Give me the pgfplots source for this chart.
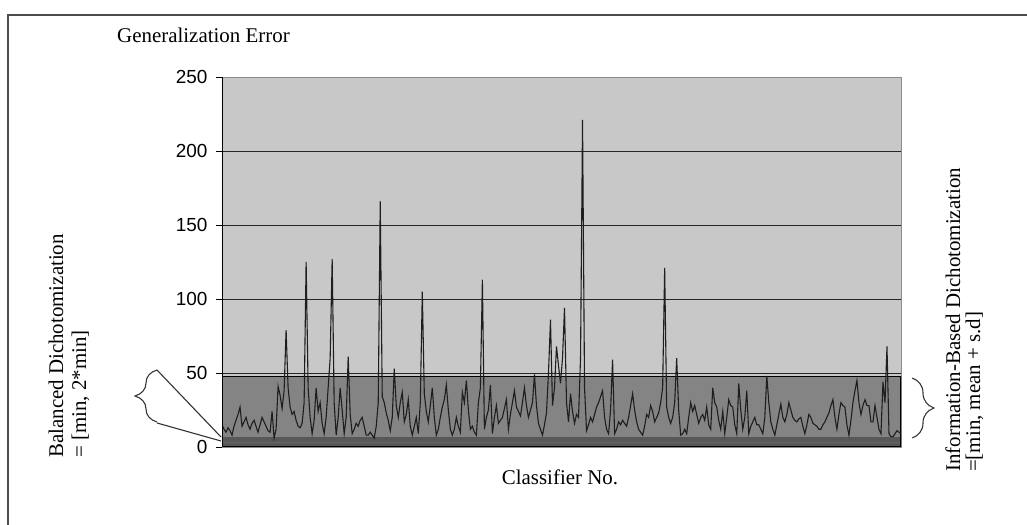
\documentclass[border=0pt]{standalone}
\usepackage{pgfplots}
\pgfplotsset{compat=1.18}
\usepackage{fontspec}
\setmainfont{Liberation Serif}
\newfontfamily\sansf{Liberation Sans}
\usetikzlibrary{decorations.pathreplacing}
\definecolor{plotbg}{RGB}{200,200,200}
\definecolor{bandc}{RGB}{132,132,132}
\definecolor{stripec}{RGB}{88,88,88}
\definecolor{linec}{RGB}{30,30,30}
\begin{document}
\begin{tikzpicture}
\useasboundingbox (0bp,0bp) rectangle (1027bp,525bp);
\draw[line width=2bp, black!70] (8bp,0bp) -- (8bp,510bp) -- (1027bp,510bp);
\begin{axis}[
  at={(222bp,78bp)}, anchor=south west,
  scale only axis, width=679bp, height=370bp,
  xmin=0, xmax=339, ymin=0, ymax=250,
  xtick=\empty, ytick={0,50,...,250}, ytick pos=left,
  ymajorgrids, grid style={black!85, line width=0.9bp},
  axis background/.style={fill=plotbg},
  axis line style={black!45},
  tick align=outside, major tick length=6bp,
  ytick style={black, line width=0.8bp},
  tick label style={font=\sansf\fontsize{19}{22}\selectfont},
  yticklabel style={xshift=-5bp},
  /pgf/number format/assume math mode=true,
]
\fill[bandc] (axis cs:0,0) rectangle (axis cs:339,47.5);
\fill[stripec] (axis cs:0,0) rectangle (axis cs:339,6.5);
\draw[black!60, line width=0.6bp] (axis cs:0,3) -- (axis cs:339,3);
\draw[black, line width=1.2bp] (axis cs:0,0) rectangle (axis cs:339,47.5);
\addplot[linec, line width=1.1bp, mark=none] coordinates {
(0,15)(1,12)(2,10)(3,13)(4,11)(5,8)(6,14)(7,18)(8,22)(9,27)
(10,14)(11,17)(12,20)(13,15)(14,12)(15,16)(16,18)(17,14)(18,10)(19,15)
(20,20)(21,17)(22,14)(23,11)(24,10)(25,24)(26,6)(27,12)(28,41)(29,35)
(30,26)(31,38)(32,79)(33,40)(34,27)(35,22)(36,24)(37,18)(38,14)(39,13)
(40,16)(41,30)(42,125)(43,40)(44,20)(45,9)(46,18)(47,40)(48,24)(49,30)
(50,16)(51,9)(52,20)(53,40)(54,60)(55,127)(56,30)(57,8)(58,20)(59,40)
(60,25)(61,9)(62,20)(63,61)(64,22)(65,9)(66,12)(67,16)(68,14)(69,18)
(70,20)(71,14)(72,8)(73,8)(74,10)(75,8)(76,6)(77,14)(78,30)(79,166)
(80,34)(81,30)(82,23)(83,18)(84,11)(85,20)(86,53)(87,28)(88,20)(89,30)
(90,37)(91,17)(92,22)(93,32)(94,14)(95,8)(96,14)(97,20)(98,9)(99,30)
(100,105)(101,36)(102,24)(103,17)(104,28)(105,40)(106,20)(107,8)(108,12)(109,20)
(110,27)(111,32)(112,42)(113,25)(114,12)(115,8)(116,12)(117,20)(118,14)(119,10)
(120,37)(121,30)(122,45)(123,25)(124,12)(125,14)(126,10)(127,8)(128,30)(129,40)
(130,113)(131,12)(132,20)(133,25)(134,42)(135,9)(136,20)(137,28)(138,16)(139,18)
(140,20)(141,26)(142,32)(143,12)(144,22)(145,30)(146,38)(147,27)(148,24)(149,21)
(150,30)(151,40)(152,28)(153,20)(154,25)(155,30)(156,49)(157,28)(158,16)(159,12)
(160,8)(161,15)(162,23)(163,50)(164,86)(165,28)(166,40)(167,68)(168,55)(169,43)
(170,60)(171,94)(172,30)(173,17)(174,36)(175,24)(176,16)(177,22)(178,20)(179,60)
(180,221)(181,40)(182,11)(183,15)(184,20)(185,17)(186,22)(187,27)(188,30)(189,34)
(190,38)(191,20)(192,12)(193,9)(194,25)(195,59)(196,9)(197,12)(198,17)(199,15)
(200,18)(201,16)(202,14)(203,20)(204,28)(205,36)(206,25)(207,17)(208,12)(209,10)
(210,8)(211,14)(212,22)(213,20)(214,28)(215,24)(216,17)(217,20)(218,23)(219,30)
(220,40)(221,121)(222,27)(223,20)(224,16)(225,20)(226,30)(227,60)(228,25)(229,8)
(230,9)(231,12)(232,9)(233,20)(234,30)(235,24)(236,28)(237,22)(238,16)(239,20)
(240,22)(241,18)(242,27)(243,15)(244,12)(245,40)(246,30)(247,27)(248,18)(249,12)
(250,24)(251,9)(252,20)(253,32)(254,28)(255,27)(256,15)(257,9)(258,43)(259,25)
(260,12)(261,20)(262,38)(263,9)(264,14)(265,17)(266,20)(267,15)(268,15)(269,12)
(270,9)(271,20)(272,48)(273,30)(274,17)(275,12)(276,8)(277,15)(278,22)(279,29)
(280,20)(281,17)(282,22)(283,30)(284,25)(285,20)(286,18)(287,17)(288,19)(289,20)
(290,14)(291,9)(292,15)(293,22)(294,20)(295,16)(296,15)(297,14)(298,12)(299,12)
(300,15)(301,17)(302,20)(303,23)(304,28)(305,32)(306,20)(307,12)(308,22)(309,30)
(310,28)(311,27)(312,15)(313,8)(314,18)(315,30)(316,38)(317,45)(318,30)(319,22)
(320,28)(321,32)(322,28)(323,28)(324,17)(325,17)(326,28)(327,20)(328,12)(329,9)
(330,44)(331,30)(332,68)(333,9)(334,7)(335,7)(336,9)(337,11)(338,10)(339,9)
};
\draw[black, line width=1.2bp] (rel axis cs:0,0) -- (rel axis cs:0,1);
\end{axis}
% annotations
\node[anchor=base west, inner sep=0pt, font=\fontsize{21}{24}\selectfont] at (117bp,482bp) {Generalization Error};
\node[anchor=base, inner sep=0pt, font=\fontsize{21}{24}\selectfont] at (560bp,40bp) {Classifier No.};
\node[rotate=90, anchor=base west, inner sep=0pt, font=\fontsize{21}{24}\selectfont] at (63bp,67bp) {Balanced Dichotomization};
\node[rotate=90, anchor=base west, inner sep=0pt, font=\fontsize{21}{24}\selectfont] at (86bp,67bp) {= [min, 2*min]};
\node[rotate=90, anchor=base west, inner sep=0pt, font=\fontsize{21}{24}\selectfont] at (960bp,53bp) {Information-Based Dichotomization};
\node[rotate=90, anchor=base west, inner sep=0pt, font=\fontsize{21}{24}\selectfont] at (980bp,53bp) {=[min, mean + s.d]};
% braces
\draw[black!80, line width=1.1bp, decorate, decoration={brace, amplitude=22bp}] (157bp,103bp) -- (157bp,155bp);
\draw[black!80, line width=1.1bp] (157bp,155bp) -- (221bp,88bp);
\draw[black!80, line width=1.1bp] (157bp,102bp) -- (221bp,84bp);
\draw[black!80, line width=1.1bp, decorate, decoration={brace, amplitude=22bp}] (912bp,147bp) -- (912bp,87bp);
\end{tikzpicture}
\end{document}
